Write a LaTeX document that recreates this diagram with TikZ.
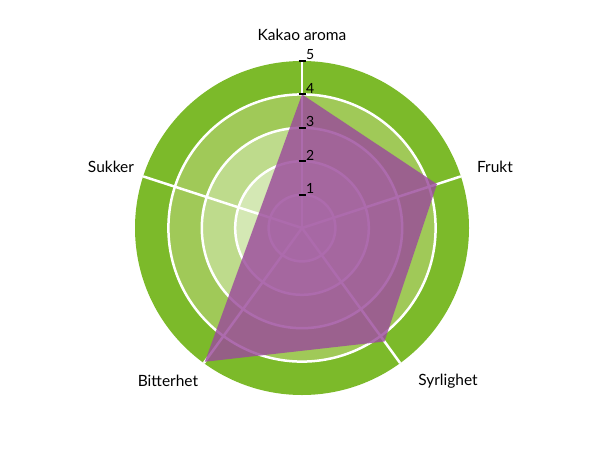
\documentclass[tikz,border=0pt]{standalone}
\usepackage{fontspec}
\setmainfont{Lato}
\usetikzlibrary{calc}
\definecolor{vert1}{RGB}{124,186,42}
\definecolor{vert2}{RGB}{160,201,88}
\definecolor{vert3}{RGB}{190,219,140}
\definecolor{vert4}{RGB}{212,232,180}
\definecolor{vert5}{RGB}{226,240,205}
\definecolor{violet}{RGB}{155,75,155}
\tikzstyle{cercle}=[white, line width=2.5pt]
\tikzstyle{etiquette}=[font=\fontsize{15.5}{18}\selectfont]

\begin{document}
\begin{tikzpicture}[x=1pt,y=1pt]
\useasboundingbox (0,0) rectangle (610,-450);

%paramètres du radar
\def \u {33.4} %pas entre deux niveaux
\coordinate (O) at (302,-228);

%anneaux colorés
\fill[vert1] (O) circle (5*\u);
\fill[vert2] (O) circle (4*\u);
\fill[vert3] (O) circle (3*\u);
\fill[vert4] (O) circle (2*\u);
\fill[vert5] (O) circle (1*\u);
\foreach \n in {1,...,4}{\draw[cercle] (O) circle (\n*\u);}

%axes
\foreach \a/\nom in {90/kakao,18/frukt,-54/syrlighet,-126/bitterhet,162/sukker}
  {\draw[cercle] (O) -- ++(\a:5*\u) coordinate (\nom);}

%polygone des valeurs
\coordinate (P1) at ($(O)+(90:4*\u)$);
\coordinate (P2) at ($(O)+(18:4.25*\u)$);
\coordinate (P3) at ($(O)+(-54:4.2*\u)$);
\coordinate (P4) at ($(O)+(-126:4.95*\u)$);
\fill[violet, opacity=.82] (P1)--(P2)--(P3)--(P4)--cycle;

%graduations
\foreach \n in {1,...,5}
  {\draw[black, line width=2pt] ($(O)+(-3.5,\n*\u)$) -- ++(7,0);
   \node[font=\fontsize{14}{16}\selectfont, anchor=south west, inner sep=1pt] (g\n) at ($(O)+(3,\n*\u)$) {\n};}

%noms des axes
\node[etiquette] (lkakao) at (302,-35) {Kakao aroma};
\node[etiquette] (lfrukt) at (495,-167) {Frukt};
\node[etiquette] (lsyrlighet) at (448,-381) {Syrlighet};
\node[etiquette] (lbitterhet) at (168,-381) {Bitterhet};
\node[etiquette] (lsukker) at (111,-167) {Sukker};

\end{tikzpicture}
\end{document}
